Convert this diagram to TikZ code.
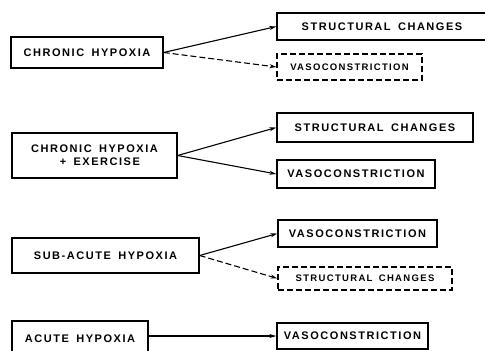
\documentclass[tikz,border=0pt]{standalone}
\usepackage{fontspec}
\newfontfamily\boxfont[LetterSpace=14,WordSpace=1.6]{Liberation Sans}
\usepackage{tikz}
\usetikzlibrary{arrows,arrows.meta}

\begin{document}
\begin{tikzpicture}[x=1pt, y=-1pt,
  every node/.style={draw, line width=1.3pt, inner sep=0pt, align=center,
    font=\boxfont\bfseries\fontsize{11}{13}\selectfont},
  weak/.style={dash pattern=on 6pt off 3pt, line width=1.1pt,
    font=\boxfont\bfseries\fontsize{9.5}{12}\selectfont}]
  \useasboundingbox (0,0) rectangle (485,351);
  % causes
  \node (h1) [minimum width=152, minimum height=31] at (87,52.5) {CHRONIC HYPOXIA};
  \node (h2) [minimum width=165, minimum height=45, align=left] at (94.5,155.5) {CHRONIC HYPOXIA\\\hspace*{2.6em}+ EXERCISE};
  \node (h3) [minimum width=187, minimum height=35] at (105.5,255.5) {SUB-ACUTE HYPOXIA};
  \node (h4) [minimum width=136, minimum height=36] at (80,339) {ACUTE HYPOXIA};
  % effects
  \node (s1) [minimum width=210, minimum height=27] at (382,26.5) {STRUCTURAL CHANGES};
  \node (v1) [weak, minimum width=145, minimum height=26] at (349.5,67) {VASOCONSTRICTION};
  \node (s2) [minimum width=196, minimum height=29] at (375,127.5) {STRUCTURAL CHANGES};
  \node (v2) [minimum width=158, minimum height=28] at (356,174) {VASOCONSTRICTION};
  \node (v3) [minimum width=159, minimum height=27] at (357.5,233.5) {VASOCONSTRICTION};
  \node (s3) [weak, minimum width=174, minimum height=23] at (365,278.5) {STRUCTURAL CHANGES};
  \node (v4) [minimum width=151, minimum height=26] at (352.5,336) {VASOCONSTRICTION};
  \path[-{Stealth[length=7pt,width=4pt]}, line width=1.1pt]
  (h1.east) edge (s1.west)
            edge [dash pattern=on 6pt off 3pt] (v1.west)
  (h2.east) edge (s2.west)
            edge (v2.west)
  (h3.east) edge (v3.west)
            edge [dash pattern=on 6pt off 3pt] (s3.west)
  (h4.east |- v4.west) edge (v4.west)
  ;
\end{tikzpicture}
\end{document}
